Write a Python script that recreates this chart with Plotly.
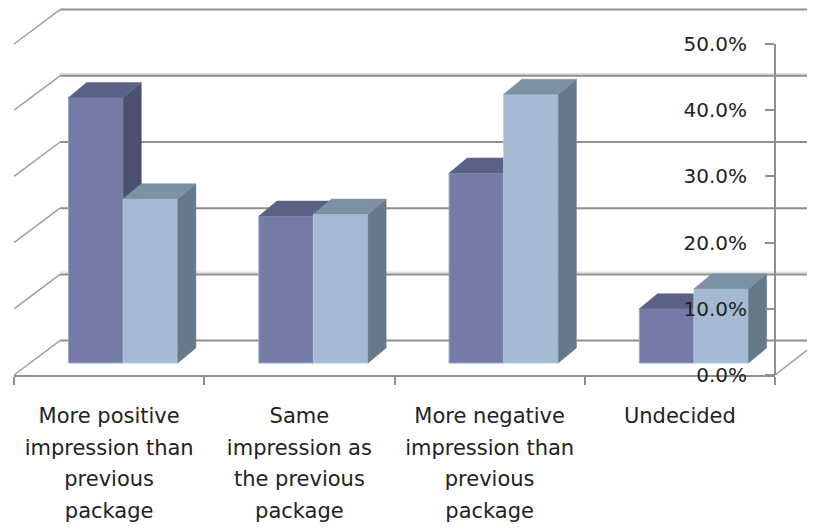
import plotly.graph_objects as go

categories = ["More positive<br>impression than<br>previous<br>package",
              "Same<br>impression as<br>the previous<br>package",
              "More negative<br>impression than<br>previous<br>package",
              "Undecided"]
series_a = [40.1, 22.2, 28.7, 8.2]
series_b = [24.8, 22.5, 40.6, 11.2]
y_ticks = [0, 10, 20, 30, 40, 50]
y_labels = ["0.0%", "10.0%", "20.0%", "30.0%", "40.0%", "50.0%"]

# canvas and plot box (the page adds an 8 px body margin)
W, H = 807, 522
PL, PR, PT, PB = 6, 767, 36, 367
XU = (PR - PL) / 4
YU = (PB - PT) / 50

# 3-D look, in axis units
WALL_DX, WALL_DY = 0.242, 5.2
BAR_DX, BAR_DY = 0.095, 2.27
BAR_BASE = 1.81
BAR_START, BAR_W = 0.287, 0.287
GRID = "#8f8f8f"

FRONT = ["#737BA6", "#A3BAD2"]
SIDE = ["#4A5072", "#66788A"]
TOP = ["#5A6287", "#7C91A3"]
EDGE = ["#9AA4C6", "#BACBDF"]

XR = [0, 4]
YR = [0, 50]
WALL_XR = [-PL / XU, (W - PL) / XU]
WALL_YR = [-(H - PB) / YU, PB / YU]
DOM_X = [PL / W, PR / W]
DOM_Y = [(H - PB) / H, (H - PT) / H]

fig = go.Figure()


def poly(xs, ys, color, xa, ya):
    fig.add_trace(go.Scatter(x=xs, y=ys, mode="lines", fill="toself", fillcolor=color,
                             line=dict(color=color, width=0.5), hoverinfo="skip",
                             showlegend=False, xaxis=xa, yaxis=ya))


def wall(xs, ys, color, width):
    fig.add_trace(go.Scatter(x=xs, y=ys, mode="lines", line=dict(color=color, width=width),
                             hoverinfo="skip", showlegend=False, xaxis="x", yaxis="y"))


# walls, on a hidden subplot as big as the canvas
for t in y_ticks:
    if t in (10, 40):
        wall([WALL_DX, WALL_XR[1]], [t + WALL_DY + 0.28] * 2, "#e2e2e2", 2)
    wall([WALL_DX, WALL_XR[1]], [t + WALL_DY] * 2, GRID, 2)
    wall([0, WALL_DX], [t, t + WALL_DY], "#a0a0a0", 1.5)
wall([4, WALL_XR[1]], [0, WALL_DY * 0.9], "#a0a0a0", 1.5)

# bars: each series on its own subplot so the nearer faces paint over the others
for k, (vals, xa, ya) in enumerate([(series_a, "x2", "y2"), (series_b, "x3", "y3")]):
    lefts = [i + BAR_START + k * BAR_W for i in range(len(vals))]
    fig.add_trace(go.Bar(x=[l + BAR_W / 2 for l in lefts], y=vals, base=[BAR_BASE] * len(vals),
                         width=BAR_W, marker=dict(color=FRONT[k], line=dict(color=EDGE[k], width=1)),
                         hoverinfo="skip", showlegend=False, xaxis=xa, yaxis=ya))
    for l, v in zip(lefts, vals):
        r = l + BAR_W
        t = BAR_BASE + v
        poly([r, r + BAR_DX, r + BAR_DX, r, r], [BAR_BASE, BAR_BASE + BAR_DY, t + BAR_DY, t, BAR_BASE],
             SIDE[k], xa, ya)
        poly([l, l + BAR_DX, r + BAR_DX, r, l], [t, t + BAR_DY, t + BAR_DY, t, t], TOP[k], xa, ya)

# the visible axes sit on the last subplot, above the bars
fig.add_trace(go.Scatter(x=[None], y=[None], mode="lines", hoverinfo="skip", showlegend=False,
                         xaxis="x4", yaxis="y4"))

hidden = dict(visible=False, fixedrange=True)
fig.update_layout(
    width=W, height=H, autosize=False,
    margin=dict(l=0, r=0, t=0, b=0, autoexpand=False),
    paper_bgcolor="white", plot_bgcolor="rgba(0,0,0,0)",
    font=dict(family="DejaVu Sans", color="#222222"),
    showlegend=False, barmode="overlay",
    xaxis=dict(range=WALL_XR, domain=[0, 1], anchor="y", **hidden),
    yaxis=dict(range=WALL_YR, domain=[0, 1], anchor="x", **hidden),
    xaxis2=dict(range=XR, domain=DOM_X, anchor="y2", **hidden),
    yaxis2=dict(range=YR, domain=DOM_Y, anchor="x2", **hidden),
    xaxis3=dict(range=XR, domain=DOM_X, anchor="y3", **hidden),
    yaxis3=dict(range=YR, domain=DOM_Y, anchor="x3", **hidden),
    xaxis4=dict(range=XR, domain=DOM_X, anchor="y4", showgrid=False, zeroline=False, showline=True,
                linecolor=GRID, linewidth=2, tickmode="array", tickvals=[i + 0.5 for i in range(4)],
                ticktext=['<br>'.join('<span style="font-size:21px">%s</span>' % p for p in c.split("<br>"))
                          for c in categories],
                ticks="", ticklen=0, tickangle=0, tickfont=dict(size=24.6), ticklabelstandoff=16,
                minor=dict(tick0=0, dtick=1, ticks="outside", ticklen=8, tickwidth=2, tickcolor=GRID),
                fixedrange=True),
    yaxis4=dict(range=YR, domain=DOM_Y, anchor="free", position=DOM_X[1], side="left",
                showgrid=False, zeroline=False, showline=True, linecolor=GRID, linewidth=2,
                tickmode="array", tickvals=y_ticks, ticktext=y_labels, ticks="outside", ticklen=9, tickwidth=2,
                tickcolor=GRID, ticklabelstandoff=14, tickfont=dict(size=20), fixedrange=True),
)
fig.write_html("out.html")
